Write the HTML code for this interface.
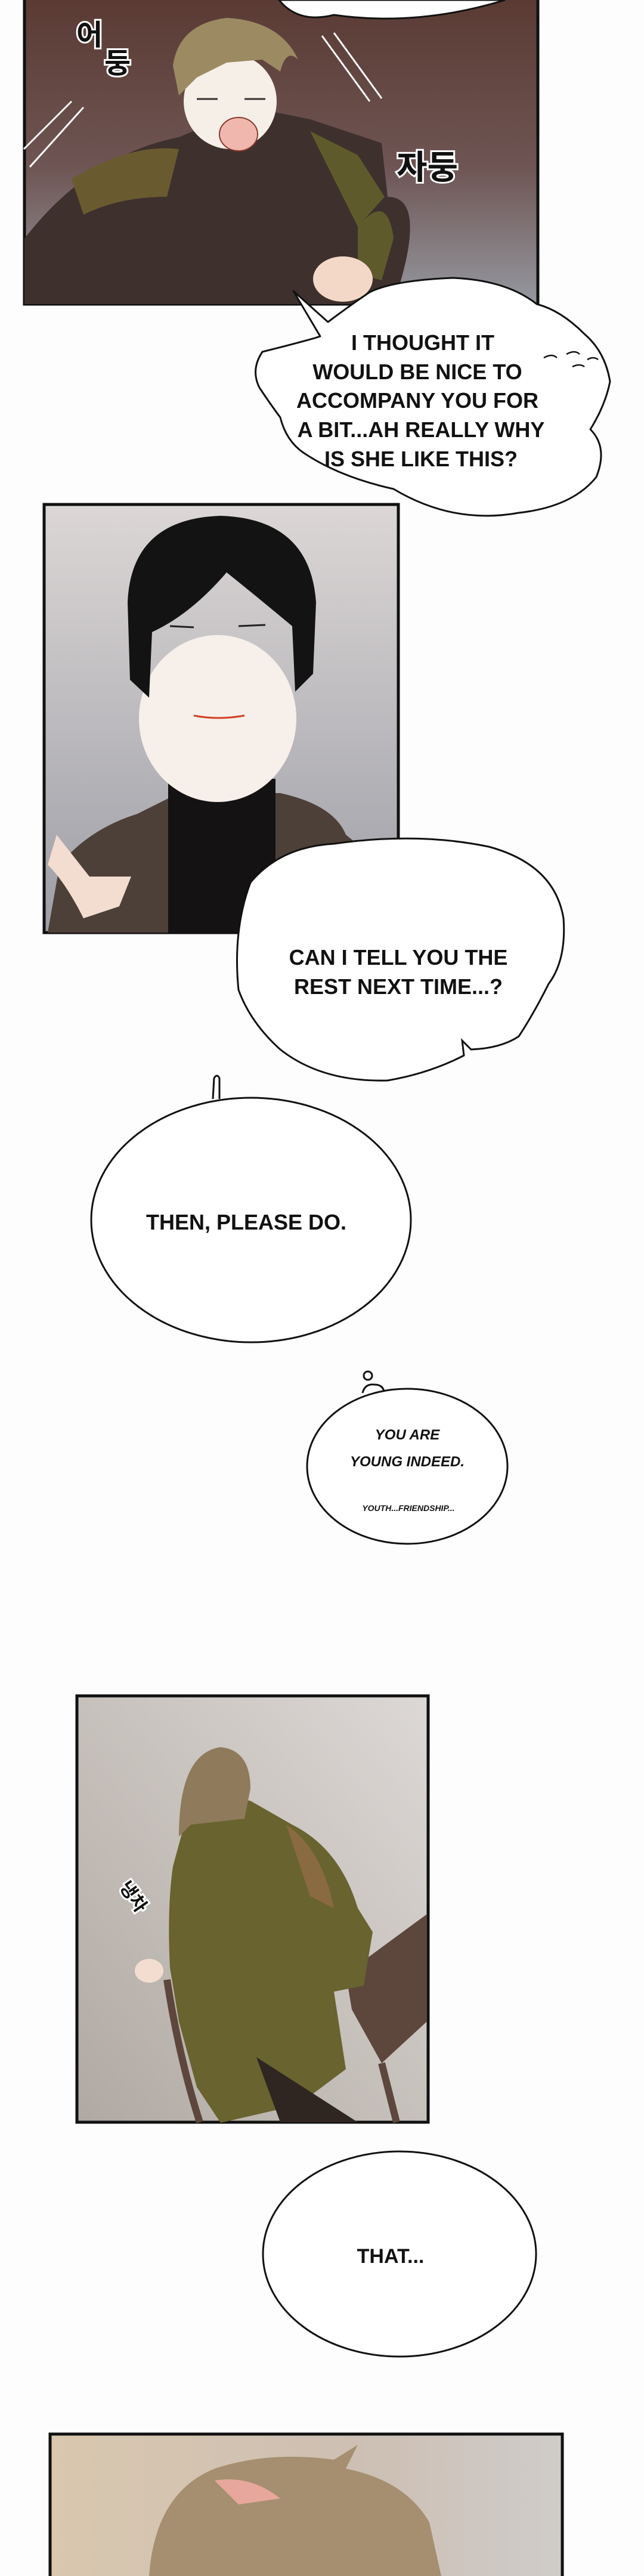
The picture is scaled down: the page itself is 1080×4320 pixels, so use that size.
<!DOCTYPE html>
<html><head><meta charset="utf-8"><style>
html,body{margin:0;padding:0;background:#fdfdfd;}
svg{display:block}
text{font-family:"Liberation Sans","Noto Sans CJK KR",sans-serif;font-weight:bold;fill:#111;}
.sfx{paint-order:stroke;stroke:#fff;stroke-width:6;fill:#111;}
</style></head><body>
<svg width="1080" height="4320" viewBox="0 0 1080 4320" xmlns="http://www.w3.org/2000/svg">
<defs>
<linearGradient id="g1" x1="0" y1="0" x2="0" y2="1">
<stop offset="0" stop-color="#5a3a33"/><stop offset="0.55" stop-color="#6e5553"/><stop offset="1" stop-color="#9598a0"/></linearGradient>
<linearGradient id="g2" x1="0" y1="0" x2="0" y2="1">
<stop offset="0" stop-color="#dcd7d6"/><stop offset="1" stop-color="#9d9ea6"/></linearGradient>
<linearGradient id="g3" x1="0" y1="1" x2="1" y2="0">
<stop offset="0" stop-color="#b0a9a3"/><stop offset="0.5" stop-color="#c7c1bc"/><stop offset="1" stop-color="#dcd8d6"/></linearGradient>
<linearGradient id="g4" x1="0" y1="0" x2="1" y2="0">
<stop offset="0" stop-color="#d9c7ae"/><stop offset="0.6" stop-color="#cdbfb3"/><stop offset="1" stop-color="#cfccc9"/></linearGradient>
</defs>
<rect width="1080" height="4320" fill="#fdfdfd"/>

<!-- Panel 1 -->
<rect x="41" y="-4" width="861" height="514" fill="url(#g1)" stroke="#111" stroke-width="5"/>
<path d="M41 510 L41 400 Q150 260 300 230 L420 180 L520 200 L640 240 L650 330 Q720 330 660 510 Z" fill="#3e302d"/>
<path d="M120 300 Q220 240 300 250 L280 330 Q200 330 140 360 Z" fill="#6a5a30"/>
<path d="M520 220 L600 260 L645 330 L600 380 L560 300 Z" fill="#5f5a2c"/>
<path d="M600 380 Q650 320 660 400 L640 470 L600 460 Z" fill="#5f5a2c"/>
<ellipse cx="386" cy="170" rx="78" ry="80" fill="#f6efe8"/>
<path d="M290 110 Q300 40 380 30 Q470 35 500 100 Q480 80 470 120 L440 100 L380 105 L330 130 L300 160 Z" fill="#9c8a62"/>
<ellipse cx="400" cy="225" rx="32" ry="28" fill="#f0b7ae" stroke="#8a3a2a" stroke-width="2"/>
<path d="M330 166 l35 0 M410 166 l35 0" stroke="#333" stroke-width="3"/>
<ellipse cx="575" cy="468" rx="50" ry="38" fill="#f3d8c8"/>
<text x="128" y="75" font-size="48" class="sfx">어</text>
<text x="175" y="122" font-size="48" class="sfx">둥</text>
<text x="665" y="300" font-size="56" class="sfx">자둥</text>
<path d="M540 60 L620 170 M560 55 L640 165 M50 280 L140 180 M40 250 L120 170" stroke="#fff" stroke-width="3" fill="none"/>
<path d="M468 0 Q500 40 560 25 Q700 45 847 0 Z" fill="#fff" stroke="#111" stroke-width="3"/>

<!-- Bubble 2 (jagged) -->
<path d="M492 488 L537 564 Q520 570 440 590 Q420 620 435 650 Q455 680 470 700 Q480 740 510 760 Q570 800 660 820 Q760 880 870 860 Q960 850 1000 800 Q1020 750 990 720 Q1015 680 1023 640 Q1015 590 980 560 Q940 520 900 510 Q850 470 760 466 Q660 470 620 490 Q590 510 550 540 Z" fill="#fff" stroke="#111" stroke-width="3" stroke-linejoin="round"/>
<g font-size="36" text-anchor="middle">
<text x="709" y="587">I THOUGHT IT</text>
<text x="700" y="636">WOULD BE NICE TO</text>
<text x="700" y="684">ACCOMPANY YOU FOR</text>
<text x="706" y="733">A BIT...AH REALLY WHY</text>
<text x="706" y="782">IS SHE LIKE THIS?</text>
</g>
<path d="M912 600 q14 -8 22 0 M950 594 q14 -8 22 0 M960 615 q12 -6 20 0 M985 603 q10 -6 18 0" stroke="#111" stroke-width="2.5" fill="none"/>

<!-- Panel 2 -->
<rect x="74" y="846" width="594" height="718" fill="url(#g2)" stroke="#111" stroke-width="5"/>
<path d="M80 1564 L100 1450 Q150 1390 230 1365 L300 1330 L470 1330 Q560 1350 580 1400 L668 1470 L668 1564 Z" fill="#4d4038"/>
<rect x="282" y="1306" width="180" height="258" fill="#141212"/>
<ellipse cx="365" cy="1205" rx="132" ry="140" fill="#f7efea"/>
<path d="M214 1010 Q220 870 370 865 Q520 870 530 1010 L525 1130 L495 1160 L490 1050 Q430 1000 380 960 Q320 1030 255 1060 L250 1170 L218 1140 Z" fill="#131313"/>
<path d="M285 1050 l40 2 M400 1050 l45 -2" stroke="#222" stroke-width="3"/>
<path d="M325 1200 q40 8 85 0" stroke="#d04020" stroke-width="3" fill="none"/>
<path d="M80 1450 Q110 1480 140 1540 L200 1520 L220 1470 L150 1470 L95 1400 Z" fill="#f3ddd0"/>

<!-- Bubble 3 -->
<path d="M420 1480 Q470 1420 560 1415 Q700 1395 820 1420 Q930 1450 945 1540 Q950 1610 920 1650 Q895 1700 870 1738 Q840 1758 790 1760 L775 1745 L778 1770 Q720 1800 650 1812 Q540 1815 470 1760 Q420 1715 400 1660 Q390 1560 420 1480 Z" fill="#fff" stroke="#111" stroke-width="3"/>
<g font-size="36" text-anchor="middle">
<text x="668" y="1618">CAN I TELL YOU THE</text>
<text x="668" y="1667">REST NEXT TIME...?</text>
</g>

<!-- Bubble 4 -->
<path d="M357 1843 L359 1808 Q364 1800 368 1808 L368 1843" fill="#fff" stroke="#111" stroke-width="3"/>
<ellipse cx="421" cy="2046" rx="268" ry="205" fill="#fff" stroke="#111" stroke-width="3"/>
<text x="413" y="2062" font-size="36" text-anchor="middle">THEN, PLEASE DO.</text>

<!-- Bubble 5 -->
<circle cx="617" cy="2307" r="7" fill="#fff" stroke="#111" stroke-width="3"/>
<path d="M608 2336 q4 -16 20 -14 q14 0 16 12" fill="#fff" stroke="#111" stroke-width="3"/>
<ellipse cx="683" cy="2459" rx="168" ry="130" fill="#fff" stroke="#111" stroke-width="3"/>
<g text-anchor="middle" font-style="italic">
<text x="683" y="2414" font-size="24">YOU ARE</text>
<text x="683" y="2459" font-size="24">YOUNG INDEED.</text>
<text x="685" y="2534" font-size="14" font-weight="normal">YOUTH...FRIENDSHIP...</text>
</g>

<!-- Panel 3 -->
<rect x="129" y="2844" width="589" height="715" fill="url(#g3)" stroke="#111" stroke-width="5"/>
<path d="M580 3310 L716 3210 L716 3390 L640 3460 L590 3370 Z" fill="#5d463c"/>
<path d="M640 3460 L665 3559 M280 3320 Q300 3450 335 3559" stroke="#5d463c" stroke-width="12" fill="none"/>
<path d="M320 3020 Q370 3010 420 3020 L490 3060 Q570 3100 600 3200 L625 3240 L610 3330 L560 3340 L580 3470 L500 3530 L370 3560 L330 3500 L300 3390 L285 3300 Q280 3200 290 3130 Z" fill="#68632f"/>
<path d="M480 3060 Q540 3100 560 3200 L520 3180 Z" fill="#8a6a40"/>
<path d="M430 3450 L600 3559 L470 3559 Z" fill="#2f2622"/>
<path d="M300 3080 Q300 2940 370 2930 Q420 2935 420 3000 L410 3050 L320 3060 Z" fill="#8f7a5c"/>
<ellipse cx="250" cy="3305" rx="24" ry="20" fill="#f3ddd0"/>
<text x="170" y="3180" font-size="30" class="sfx" transform="rotate(55 200 3200)">냉차</text>

<!-- Bubble 6 -->
<ellipse cx="670" cy="3780" rx="229" ry="172" fill="#fff" stroke="#111" stroke-width="3"/>
<text x="655" y="3795" font-size="34" text-anchor="middle">THAT...</text>

<!-- Panel 4 -->
<rect x="84" y="4082" width="859" height="260" fill="url(#g4)" stroke="#111" stroke-width="5"/>
<path d="M250 4320 Q260 4180 360 4140 Q450 4110 560 4125 L600 4100 L580 4140 Q680 4160 720 4230 L740 4320 Z" fill="#a58f70"/>
<path d="M360 4160 Q420 4150 470 4190 L400 4200 Z" fill="#e8a79c"/>
</svg>
</body></html>
